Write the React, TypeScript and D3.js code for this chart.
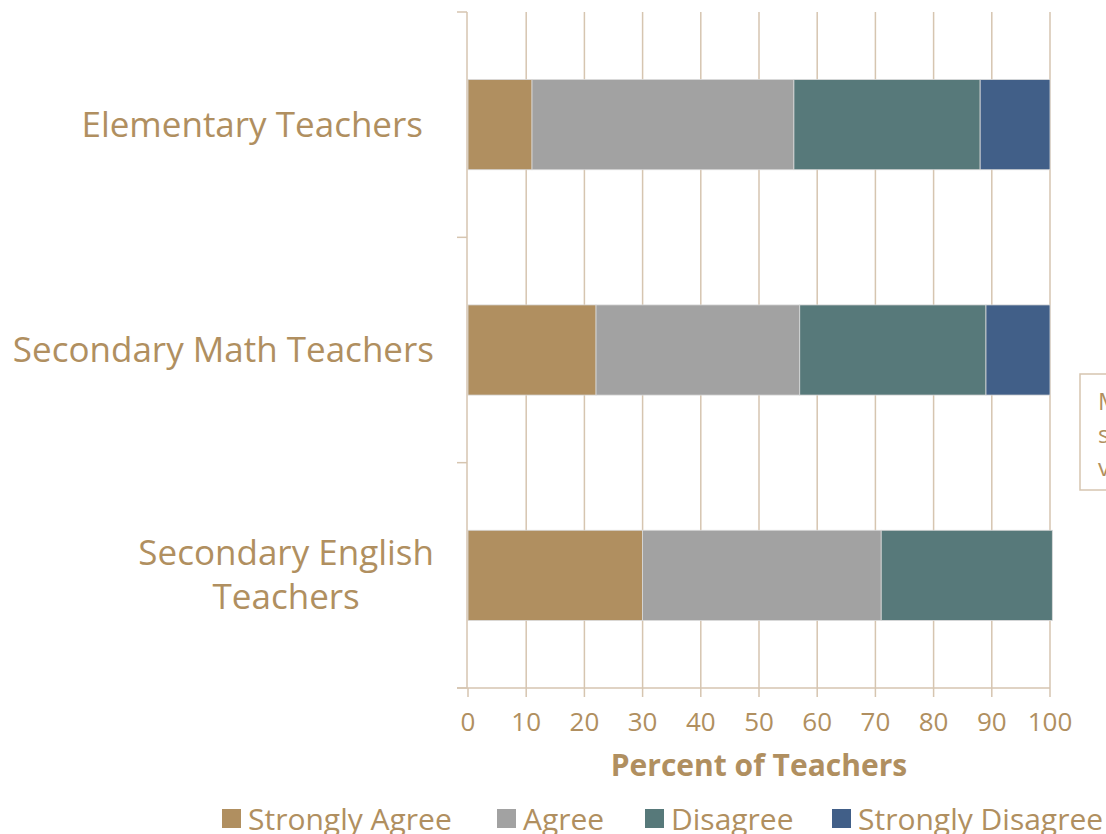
import { useEffect, useRef } from "react";
import * as d3 from "d3";

const categories = ["Elementary Teachers", "Secondary Math Teachers", "Secondary English Teachers"];
const stronglyAgree = [11, 22, 30];
const agree = [45, 35, 41];
const disagree = [32, 32, 29.4];
const stronglyDisagree = [12, 11, 0];
const seriesNames = ["Strongly Agree", "Agree", "Disagree", "Strongly Disagree"];
const seriesColors = ["#b08f60", "#a2a2a2", "#57797a", "#415f88"];
const xTicks = [0, 10, 20, 30, 40, 50, 60, 70, 80, 90, 100];

const W = 1106;
const H = 834;
const TEXT = "#b08f60";
const GRID = "#d6c5b0";
const FONT = "'Open Sans', sans-serif";

const App = () => {
  const svgRef = useRef<SVGSVGElement | null>(null);

  useEffect(() => {
    const svg = d3.select(svgRef.current).attr("width", W).attr("height", H);
    svg.selectAll("*").remove();

    const left = 468;
    const right = 1050;
    const top = 12;
    const bottom = 688;

    const x = d3.scaleLinear().domain([0, 100]).range([left, right]);
    const y = d3.scaleBand().domain(categories).range([top, bottom]).paddingInner(0.6).paddingOuter(0.3);
    const band = d3.scaleBand().domain(categories).range([top, bottom]);

    // vertical gridlines
    svg.append("g")
      .selectAll("line")
      .data(xTicks.slice(1))
      .join("line")
      .attr("x1", (d) => x(d))
      .attr("x2", (d) => x(d))
      .attr("y1", top)
      .attr("y2", bottom)
      .attr("stroke", GRID)
      .attr("stroke-width", 1.5);

    // stacked bars
    const rows = categories.map((c, i) => ({
      cat: c,
      vals: [stronglyAgree[i], agree[i], disagree[i], stronglyDisagree[i]],
    }));
    rows.forEach((r) => {
      let acc = 0;
      r.vals.forEach((v, k) => {
        if (v <= 0) return;
        svg.append("rect")
          .attr("x", x(acc))
          .attr("y", y(r.cat)!)
          .attr("width", x(acc + v) - x(acc))
          .attr("height", y.bandwidth())
          .attr("fill", seriesColors[k])
          .attr("stroke", "#d9d9d9")
          .attr("stroke-width", 0.8);
        acc += v;
      });
    });

    // y axis
    svg.append("line")
      .attr("x1", left - 1).attr("x2", left - 1)
      .attr("y1", top).attr("y2", bottom)
      .attr("stroke", GRID).attr("stroke-width", 1.5);
    const yTickPos = [top, ...categories.map((c) => band(c)! + band.bandwidth())];
    svg.append("g")
      .selectAll("line")
      .data(yTickPos)
      .join("line")
      .attr("x1", left - 11).attr("x2", left - 1)
      .attr("y1", (d) => d).attr("y2", (d) => d)
      .attr("stroke", GRID).attr("stroke-width", 1.5);

    // x axis
    svg.append("line")
      .attr("x1", left - 11).attr("x2", right)
      .attr("y1", bottom).attr("y2", bottom)
      .attr("stroke", GRID).attr("stroke-width", 1.5);
    svg.append("g")
      .selectAll("line")
      .data(xTicks)
      .join("line")
      .attr("x1", (d) => x(d)).attr("x2", (d) => x(d))
      .attr("y1", bottom).attr("y2", bottom + 9)
      .attr("stroke", GRID).attr("stroke-width", 1.5);
    svg.append("g")
      .selectAll("text")
      .data(xTicks)
      .join("text")
      .attr("x", (d) => x(d))
      .attr("y", bottom + 43)
      .attr("text-anchor", "middle")
      .attr("font-family", FONT)
      .attr("font-size", 26)
      .attr("fill", TEXT)
      .text((d) => d);

    svg.append("text")
      .attr("x", 759)
      .attr("y", 776)
      .attr("text-anchor", "middle")
      .attr("font-family", FONT)
      .attr("font-weight", "bold")
      .attr("font-size", 30)
      .attr("fill", TEXT)
      .text("Percent of Teachers");

    // category labels, right edge near the axis
    const labelLines: Record<string, string[]> = {
      "Elementary Teachers": ["Elementary Teachers"],
      "Secondary Math Teachers": ["Secondary Math Teachers"],
      "Secondary English Teachers": ["Secondary English", "Teachers"],
    };
    const labelRight: Record<string, number> = {
      "Elementary Teachers": 423,
      "Secondary Math Teachers": 434,
      "Secondary English Teachers": 434,
    };
    categories.forEach((c) => {
      const lines = labelLines[c];
      const cy = y(c)! + y.bandwidth() / 2;
      const t = svg.append("text")
        .attr("text-anchor", "middle")
        .attr("font-family", FONT)
        .attr("font-size", 35)
        .attr("fill", TEXT);
      const spans = lines.map((ln, i) =>
        t.append("tspan")
          .attr("y", cy + 12 + (i - (lines.length - 1) / 2) * 44)
          .text(ln)
      );
      const widest = d3.max(spans, (s) => (s.node() as SVGTSpanElement).getComputedTextLength()) ?? 0;
      spans.forEach((s) => s.attr("x", labelRight[c] - widest / 2));
    });

    // legend
    const legendX = [222, 497, 645, 832];
    seriesNames.forEach((n, i) => {
      svg.append("rect")
        .attr("x", legendX[i])
        .attr("y", 809)
        .attr("width", 19)
        .attr("height", 19)
        .attr("fill", seriesColors[i]);
      svg.append("text")
        .attr("x", legendX[i] + 26)
        .attr("y", 830)
        .attr("font-family", FONT)
        .attr("font-size", 30)
        .attr("fill", TEXT)
        .text(n);
    });

    // partially visible note box
    svg.append("rect")
      .attr("x", 1080)
      .attr("y", 374)
      .attr("width", 60)
      .attr("height", 116)
      .attr("fill", "#fff")
      .attr("stroke", GRID)
      .attr("stroke-width", 1.5);
    ["M", "s", "v"].forEach((s, i) => {
      svg.append("text")
        .attr("x", 1098)
        .attr("y", 410 + i * 33)
        .attr("font-family", FONT)
        .attr("font-size", 24)
        .attr("fill", TEXT)
        .text(s);
    });
  }, []);

  return (
    <div style={{ position: "absolute", left: 0, top: 0, width: W, height: H, background: "#fff", overflow: "hidden" }}>
      <svg ref={svgRef} style={{ display: "block" }} />
    </div>
  );
};

export default App;
